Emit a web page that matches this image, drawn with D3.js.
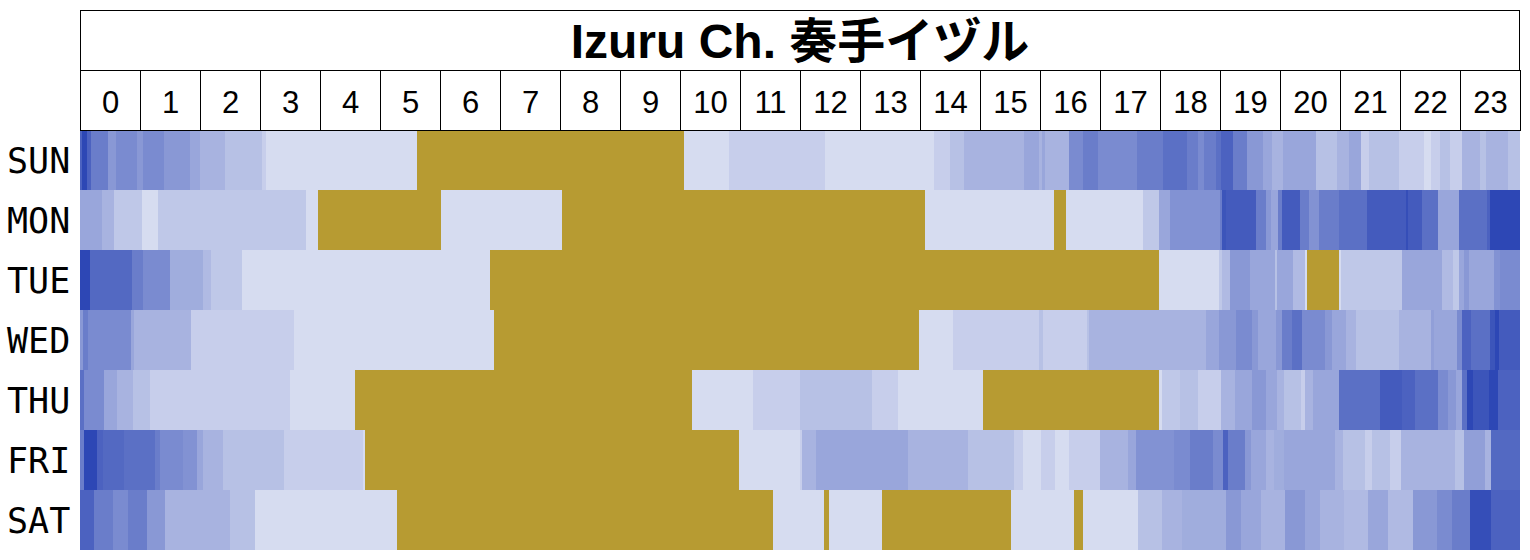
<!DOCTYPE html>
<html><head><meta charset="utf-8">
<script src="https://cdn.jsdelivr.net/npm/d3@7"></script>
<style>body{margin:0;background:#fff}svg{display:block}</style>
</head><body>
<script>
// Title and axis labels
const title = "Izuru Ch. 奏手イヅル";
const hours = d3.range(24).map(String);
const days = ["SUN","MON","TUE","WED","THU","FRI","SAT"];
const G = -1; // streaming (gold)

// Per-day runs: [start minute, activity level 0..11] (G = live stream)
const SUN = [[0,9],[2,11],[7,9],[11,7],[28,5],[36,6],[57,5],[63,6],[84,5],[110,4],[120,3],[145,2],[182,1],[186,0],[337,G],[604,0],[649,1],[745,0],[854,1],[870,2],[884,3],[944,4],[959,3],[962,4],[965,3],[989,6],[1003,7],[1018,6],[1057,7],[1083,8],[1107,7],[1118,6],[1124,7],[1136,8],[1141,9],[1153,7],[1167,5],[1183,4],[1192,3],[1203,4],[1236,2],[1257,3],[1269,4],[1281,1],[1289,2],[1319,1],[1344,0],[1351,1],[1360,2],[1370,1],[1382,3],[1400,2],[1406,3],[1428,2]];
const MON = [[0,4],[22,3],[34,1.5],[62,0],[78,1.5],[226,0],[238,G],[361,0],[482,G],[845,0],[974,G],[986,0],[1063,1.5],[1079,4],[1090,5.5],[1140,7],[1142,10],[1146,9.5],[1176,7],[1186,5],[1191,4],[1198,7],[1202,9.5],[1220,7],[1229,5.5],[1239,7],[1259,8],[1287,9.5],[1326,10.5],[1328,9.5],[1342,8],[1358,4],[1379,8],[1407,9],[1410,11]];
const TUE = [[0,11],[10,8.5],[52,7],[63,6],[90,3.5],[123,2.5],[131,1.5],[162,0],[410,G],[1079,0],[1139,1.5],[1142,2.5],[1150,5],[1170,4],[1195,2],[1197,4],[1213,2.5],[1225,0],[1227,G],[1259,0],[1261,1.5],[1322,4],[1362,2.5],[1373,1.5],[1379,4],[1384,5],[1389,4],[1414,5.5],[1420,6]];
const WED = [[0,5],[3,7],[8,6],[51,4],[54,3],[111,1],[214,0],[414,G],[839,0],[873,1],[959,2],[963,1],[1007,2],[1009,3],[1126,4],[1139,5],[1156,6],[1172,5],[1178,4],[1196,5],[1202,7],[1212,8],[1222,6],[1245,5],[1252,4],[1266,3],[1276,2],[1319,3],[1351,4.5],[1354,4],[1377,6],[1382,9],[1391,8],[1410,10],[1415,11],[1419,9.5]];
const THU = [[0,8],[4,6],[24,4],[37,3],[53,2],[70,1],[210,0],[275,G],[612,0],[673,1],[720,2],[792,1],[818,0],[903,G],[1079,0],[1082,1.5],[1100,2],[1118,1],[1141,3],[1155,4],[1172,5],[1186,4],[1197,3],[1204,2],[1221,1],[1225,3],[1233,4],[1259,8],[1300,9.5],[1322,9],[1335,8],[1358,6],[1368,5],[1376,4],[1382,8],[1387,11],[1393,10],[1409,11],[1418,9]];
const FRI = [[0,7],[4,11],[17,9],[23,8.5],[44,8],[75,7],[80,6],[103,5.5],[117,4],[123,3],[143,2],[204,1],[283,0],[285,G],[659,0],[720,1],[722,3],[736,4],[828,3],[888,2],[934,1],[943,0],[961,1],[975,0],[989,1],[1020,3],[1048,4],[1056,5.5],[1094,6],[1110,7],[1133,6],[1143,9],[1148,7],[1165,5],[1171,4],[1186,3],[1194,3.5],[1204,4],[1255,3],[1263,2],[1285,1],[1292,2],[1310,1],[1321,3],[1375,2],[1384,4.5],[1405,3],[1411,8.5]];
const SAT = [[0,9],[14,7],[33,6],[48,7],[67,5],[85,3],[150,2],[175,0],[317,G],[693,0],[744,G],[749,0],[802,G],[931,0],[994,G],[1003,0],[1058,2],[1082,3],[1102,3.5],[1146,5],[1161,4],[1181,3],[1205,5],[1225,4],[1240,3],[1264,2.5],[1288,4],[1308,2.5],[1333,5],[1357,6],[1372,7],[1390,10.5],[1411,9]];
const dayRuns = [SUN, MON, TUE, WED, THU, FRI, SAT];

const W = 1530, H = 560;
const svg = d3.select("body").append("svg").attr("width", W).attr("height", H);

const x = d3.scaleLinear().domain([0, 1440]).range([80, 1520]);
const xh = d3.scaleBand().domain(hours).range([80, 1520]);
const y = d3.scaleBand().domain(days).range([130, 550]);
const color = d3.scaleLinear().domain([0, 11]).range(["#d6dcf0", "#2d47b5"]).interpolate(d3.interpolateRgb);
const gold = "#b79b32";

// heatmap
const cells = [];
dayRuns.forEach((runs, i) => {
  runs.forEach((r, j) => {
    const end = j + 1 < runs.length ? runs[j + 1][0] : 1440;
    cells.push({day: days[i], start: r[0], end, v: r[1]});
  });
});
svg.append("g").attr("shape-rendering", "crispEdges")
  .selectAll("rect").data(cells).join("rect")
  .attr("x", d => x(d.start))
  .attr("width", d => x(d.end) - x(d.start))
  .attr("y", d => y(d.day))
  .attr("height", y.bandwidth())
  .attr("fill", d => d.v === G ? gold : color(d.v));

// title box
svg.append("rect").attr("x", 80.5).attr("y", 10.5).attr("width", 1439).attr("height", 60)
  .attr("fill", "#fff").attr("stroke", "#000").attr("stroke-width", 1);
svg.append("text").attr("x", 800).attr("y", 58).attr("text-anchor", "middle")
  .attr("font-family", "'Liberation Sans', Arial, 'Noto Sans CJK JP', sans-serif")
  .attr("font-weight", "bold").attr("font-size", 48).attr("fill", "#000")
  .text(title);

// hour header
const hg = svg.append("g");
hg.selectAll("rect").data(hours).join("rect")
  .attr("x", d => xh(d) + 0.5).attr("y", 70.5)
  .attr("width", xh.bandwidth()).attr("height", 60)
  .attr("fill", "none").attr("stroke", "#000").attr("stroke-width", 1);
hg.selectAll("text").data(hours).join("text")
  .attr("x", d => xh(d) + xh.bandwidth() / 2 + 0.5).attr("y", 113)
  .attr("text-anchor", "middle")
  .attr("font-family", "'Liberation Sans', Arial, sans-serif")
  .attr("font-size", 31).attr("fill", "#000")
  .text(d => d);

// day labels
svg.append("g").selectAll("text").data(days).join("text")
  .attr("x", 7).attr("y", d => y(d) + y.bandwidth() / 2 + 12.5)
  .attr("font-family", "'DejaVu Sans Mono', monospace")
  .attr("font-size", 35).attr("fill", "#000")
  .text(d => d);
</script>
</body></html>
